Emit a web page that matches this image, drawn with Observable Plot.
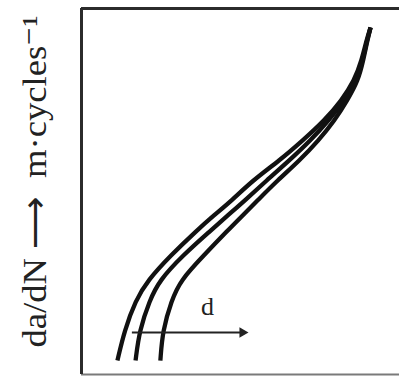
<!DOCTYPE html>
<html><head><meta charset="utf-8">
<script src="https://cdn.jsdelivr.net/npm/d3@7"></script>
<script src="https://cdn.jsdelivr.net/npm/@observablehq/plot@0.6"></script>
<style>body{margin:0;background:#fff;} #chart svg{display:block;}</style>
</head><body><div id="chart"></div>
<script>
// log da/dN levels (relative units, 0–100) shared by the three curves
const rateLevels  = [3.8, 12.0, 20.2, 25.7, 32.5, 39.3, 43.4, 47.5, 53.0, 58.5, 63.9, 69.4, 74.9, 80.3, 85.8, 91.3, 94.8];
// log ΔK (relative units) for each curve, d increasing from left to right
const curveSmallD = [11.3, 13.5, 17.0, 20.8, 28.0, 36.2, 41.5, 47.2, 53.8, 62.3, 69.5, 76.4, 81.8, 85.8, 88.1, 89.6, 90.9];
const curveMidD   = [17.0, 18.2, 21.4, 24.5, 31.8, 40.6, 45.9, 51.3, 58.2, 65.4, 72.0, 77.7, 82.7, 86.5, 88.4, 89.8, 90.9];
const curveLargeD = [24.8, 25.5, 28.3, 31.1, 38.4, 45.9, 50.6, 55.3, 61.6, 68.6, 74.5, 79.6, 83.6, 87.0, 88.6, 89.9, 90.9];
const seriesNames = ["d1", "d2", "d3"];
// arrow showing increasing d
const arrowStart = 16.0, arrowEnd = 52.5, arrowLevel = 11.5;
const arrowLabel = "d", arrowLabelX = 39.6, arrowLabelY = 18.6;
const yLabel = "da/dN \u27F6  m\u00B7cycles\u207B\u00B9";

const curves = [curveSmallD, curveMidD, curveLargeD];
const rows = curves.flatMap((xs, i) => xs.map((x, j) => ({series: seriesNames[i], x, y: rateLevels[j]})));

const chart = Plot.plot({
  width: 399, height: 376,
  marginLeft: 81, marginRight: 0, marginTop: 8, marginBottom: 2,
  x: {domain: [0, 100], axis: null},
  y: {domain: [0, 100], axis: null},
  style: {background: "#fff"},
  marks: [
    Plot.ruleY([0], {stroke: "#7a7a7a", strokeWidth: 2}),
    Plot.ruleY([100], {stroke: "#2b2b2b", strokeWidth: 3}),
    Plot.ruleX([0], {stroke: "#2b2b2b", strokeWidth: 3}),
    Plot.line(rows, {x: "x", y: "y", z: "series", stroke: "#111", strokeWidth: 4.3, curve: "basis", strokeLinecap: "butt"}),
    Plot.ruleY([arrowLevel], {x1: arrowStart, x2: arrowEnd - 2, stroke: "#222", strokeWidth: 2}),
    Plot.dot([arrowLevel], {x: () => arrowEnd, y: d => d, symbol: "triangle2", r: 5, fill: "#222", stroke: "none", rotate: 90, dx: -6}),
    Plot.text([arrowLabel], {x: () => arrowLabelX, y: () => arrowLabelY, text: d => d, fontSize: 26, fontFamily: "Liberation Serif", fill: "#222"}),
    Plot.text([yLabel], {frameAnchor: "left", text: d => d, rotate: -90, textAnchor: "start", dx: -46, dy: 156, fontSize: 34, fontFamily: "Liberation Serif", fill: "#222", className: "ylab"})
  ]
});
document.getElementById("chart").appendChild(chart);
d3.select(chart).selectAll(".ylab text").attr("textLength", 332).attr("lengthAdjust", "spacingAndGlyphs");
</script>
</body></html>
